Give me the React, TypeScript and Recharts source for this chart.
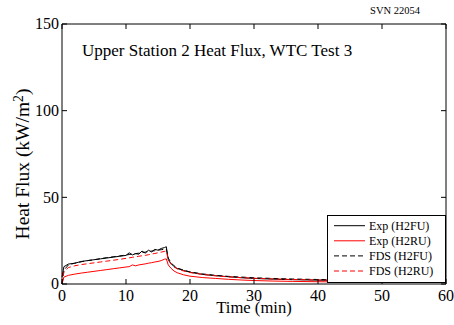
import React from 'react';
import { LineChart, Line, XAxis, YAxis } from 'recharts';

// ---- data ----
const timeMin = [0, 0.3, 1, 2, 3, 4, 5, 6, 7, 8, 9, 10, 10.5, 11, 11.5, 12, 12.5, 13, 13.5, 14, 14.5, 15, 15.5, 16, 16.3, 16.6, 17, 17.5, 18, 19, 20, 22, 24, 26, 28, 30, 33, 36, 40, 44, 48, 52, 57, 60];
const expH2FU = [4, 10, 11.5, 12, 13, 13.5, 14, 14.5, 15, 15.5, 16, 16.5, 18, 16.8, 17.5, 17.2, 19, 17.8, 19.5, 18.5, 20, 19.5, 20.5, 21, 21.5, 14, 12, 10, 9, 7.8, 6.8, 5.5, 4.8, 4.2, 3.6, 3.2, 2.8, 2.5, 2.2, 2, 1.8, 1.6, 1.5, null];
const expH2RU = [0, 4, 5, 5.7, 6.3, 6.8, 7.3, 7.8, 8.3, 8.8, 9.3, 9.8, 10, 11, 10.5, 11, 11.3, 11.6, 12, 12.3, 12.7, 13, 13.5, 14.3, 14.5, 11, 9.2, 7.5, 6.5, 5.3, 4.5, 3.7, 3.2, 2.7, 2.3, 2, 1.7, 1.5, 1.3, 1.2, 1.1, 1, 1, null];
const fdsH2FU = [0, 8, 11, 12, 12.8, 13.5, 14, 14.6, 15.2, 15.7, 16.2, 16.7, 17, 17.3, 17.5, 17.8, 18.1, 18.4, 18.7, 19, 19.2, 19.5, 19.8, 20, 20.2, 15, 12.5, 10.5, 9.2, 8, 7, 5.8, 5, 4.4, 4, 3.6, 3.2, 2.9, 2.6, 2.4, 2.2, 2, 1.9, 1.8];
const fdsH2RU = [0, 7, 9.5, 10.5, 11.2, 11.7, 12.2, 12.7, 13.2, 13.7, 14.2, 14.8, 15.1, 15.4, 15.7, 16, 16.3, 16.5, 16.9, 17.3, 17.6, 18, 18.4, 18.8, 19, 14, 11.6, 9.9, 8.7, 7.5, 6.6, 5.5, 4.7, 4.1, 3.7, 3.3, 2.9, 2.6, 2.3, 2.1, 1.9, 1.8, 1.7, 1.6];

const xTicks = [0, 10, 20, 30, 40, 50, 60];
const yTicks = [0, 50, 100, 150];

const titleText = 'Upper Station 2 Heat Flux, WTC Test 3';
const stampText = 'SVN 22054';
const xLabelText = 'Time (min)';

const data = timeMin.map((t, i) => ({
  t,
  expH2FU: expH2FU[i],
  expH2RU: expH2RU[i],
  fdsH2FU: fdsH2FU[i],
  fdsH2RU: fdsH2RU[i],
}));

// the last series is bound to the top/right axes (same fixed domains) so those frame axes render
const series = [
  { key: 'expH2FU', name: 'Exp (H2FU)', color: '#000000', dash: undefined as string | undefined, xId: 'b', yId: 'l' },
  { key: 'expH2RU', name: 'Exp (H2RU)', color: '#ff0000', dash: undefined as string | undefined, xId: 'b', yId: 'l' },
  { key: 'fdsH2FU', name: 'FDS (H2FU)', color: '#000000', dash: '5 3', xId: 'b', yId: 'l' },
  { key: 'fdsH2RU', name: 'FDS (H2RU)', color: '#ff0000', dash: '5 3', xId: 't', yId: 'r' },
];

const FONT = "'Liberation Serif', Tinos, 'Times New Roman', 'Nimbus Roman', 'DejaVu Serif', serif";
const M = 10;
const TICK_LEN = 5;
const TICK_FS = 16;

const BottomTick = (props: any) => {
  const { x, y, payload } = props;
  const ay = y - M;
  return (
    <g>
      <line x1={x} x2={x} y1={ay} y2={ay - TICK_LEN} stroke="#000" strokeWidth={1} />
      <text x={x} y={ay + 16.5} textAnchor="middle" fontSize={TICK_FS} style={{ fontFamily: FONT }} fill="#000">
        {payload.value}
      </text>
    </g>
  );
};

const TopTick = (props: any) => {
  const { x, y } = props;
  const ay = y + M;
  return <line x1={x} x2={x} y1={ay} y2={ay + TICK_LEN} stroke="#000" strokeWidth={1} />;
};

const LeftTick = (props: any) => {
  const { x, y, payload } = props;
  const ax = x + M;
  return (
    <g>
      <line x1={ax} x2={ax + TICK_LEN} y1={y} y2={y} stroke="#000" strokeWidth={1} />
      <text x={ax - 3} y={y} dy="0.34em" textAnchor="end" fontSize={TICK_FS} style={{ fontFamily: FONT }} fill="#000">
        {payload.value}
      </text>
    </g>
  );
};

const RightTick = (props: any) => {
  const { x, y } = props;
  const ax = x - M;
  return <line x1={ax} x2={ax - TICK_LEN} y1={y} y2={y} stroke="#000" strokeWidth={1} />;
};

const axisLine = { stroke: '#000', strokeWidth: 1 };

export default function App() {
  return (
    <div style={{ position: 'absolute', left: 0, top: 0, width: 454, height: 325, background: '#fff', fontFamily: FONT }}>
      <LineChart width={454} height={325} data={data} margin={{ top: 23, right: 7, bottom: 0, left: 0 }}>
        <XAxis xAxisId="b" dataKey="t" type="number" domain={[0, 60]} ticks={xTicks} interval={0}
          tickSize={0} tickLine={false} tickMargin={M} tick={<BottomTick />} axisLine={axisLine} height={41} />
        <XAxis xAxisId="t" orientation="top" dataKey="t" type="number" domain={[0, 60]} ticks={xTicks} interval={0}
          tickSize={0} tickLine={false} tickMargin={M} tick={<TopTick />} axisLine={axisLine} height={1} />
        <YAxis yAxisId="l" type="number" domain={[0, 150]} ticks={yTicks} interval={0}
          tickSize={0} tickLine={false} tickMargin={M} tick={<LeftTick />} axisLine={axisLine} width={62} />
        <YAxis yAxisId="r" orientation="right" type="number" domain={[0, 150]} ticks={yTicks} interval={0}
          tickSize={0} tickLine={false} tickMargin={M} tick={<RightTick />} axisLine={axisLine} width={1} />
        {series.map((s) => (
          <Line key={s.key} xAxisId={s.xId} yAxisId={s.yId} type="linear" dataKey={s.key} name={s.name}
            stroke={s.color} strokeWidth={1} strokeDasharray={s.dash} dot={false} activeDot={false}
            isAnimationActive={false} connectNulls={false} />
        ))}
      </LineChart>

      {/* title */}
      <div style={{ position: 'absolute', left: 82, top: 41.5, fontSize: 17, lineHeight: 1, whiteSpace: 'nowrap', color: '#000' }}>
        {titleText}
      </div>
      {/* stamp */}
      <div style={{ position: 'absolute', left: 395, top: 6.2, fontSize: 10.5, lineHeight: 1, whiteSpace: 'nowrap', transform: 'translateX(-50%)', color: '#000' }}>
        {stampText}
      </div>
      {/* x label */}
      <div style={{ position: 'absolute', left: 254, top: 300, fontSize: 16.6, lineHeight: 1, whiteSpace: 'nowrap', transform: 'translateX(-50%)', color: '#000' }}>
        {xLabelText}
      </div>
      {/* y label */}
      <div style={{ position: 'absolute', left: 23, top: 164, fontSize: 19.5, lineHeight: 1, whiteSpace: 'nowrap', transform: 'translate(-50%, -50%) rotate(-90deg)', color: '#000' }}>
        Heat Flux (kW/m<span style={{ position: 'relative', top: '-0.45em', fontSize: '0.7em' }}>2</span>)
      </div>
      {/* legend */}
      <div style={{ position: 'absolute', left: 327, top: 215, width: 119, height: 68 }}>
        <svg width={119} height={68}>
          <rect x={0.5} y={0.5} width={118} height={67} fill="#fff" stroke="#000" strokeWidth={1} />
          {series.map((s, i) => {
            const cy = 10.7 + i * 15.1;
            return (
              <g key={s.key}>
                <line x1={7} x2={38} y1={cy} y2={cy} stroke={s.color} strokeWidth={1} strokeDasharray={s.dash} />
                <text x={42} y={cy} dy="0.34em" fontSize={12} style={{ fontFamily: FONT }} fill="#000">{s.name}</text>
              </g>
            );
          })}
        </svg>
      </div>
    </div>
  );
}
